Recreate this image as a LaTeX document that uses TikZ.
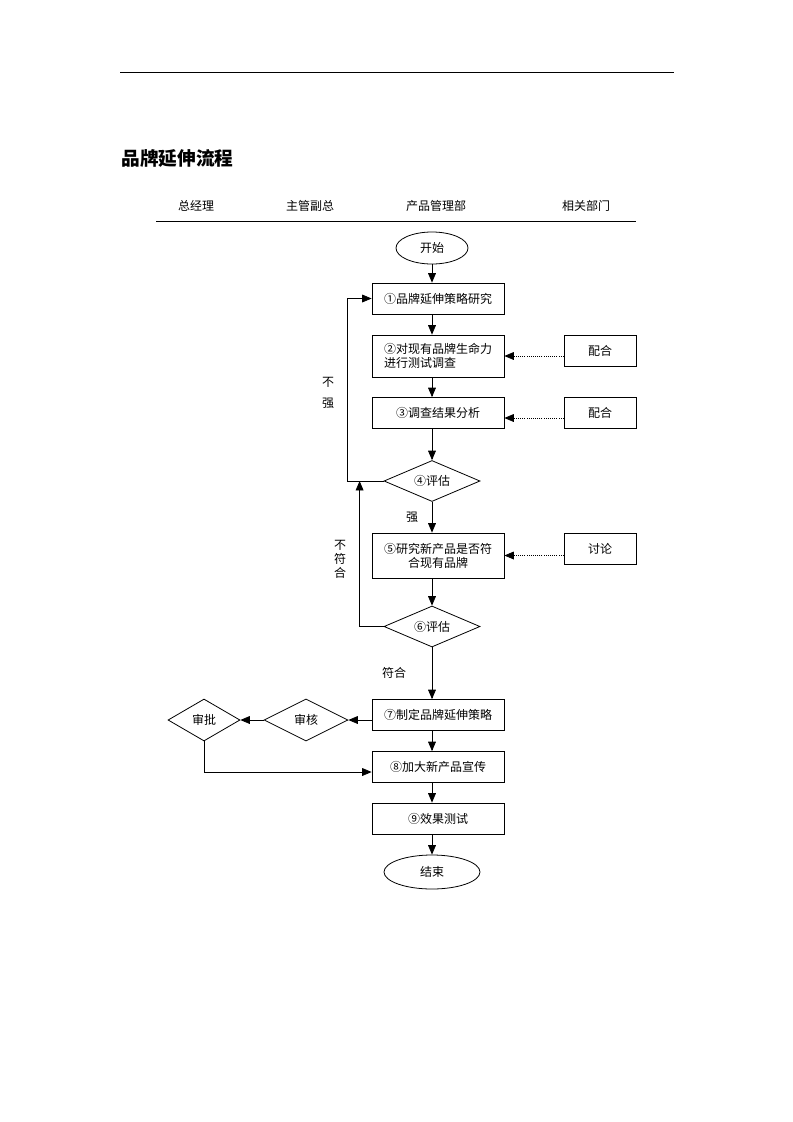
\documentclass[tikz,border=0pt]{standalone}
\usepackage{fontspec}
\setmainfont{Noto Sans CJK SC}
\usetikzlibrary{shapes.geometric, arrows}
\tikzstyle{startstop} = [ellipse, draw=black, minimum width=54pt, minimum height=24pt, inner sep=0pt]
\tikzstyle{process} = [rectangle, draw=black, minimum width=99pt, minimum height=23.25pt, inner sep=2pt, text centered]
\tikzstyle{decision} = [diamond, aspect=2.4, draw=black, minimum width=72pt, minimum height=30.75pt, inner sep=0pt]
\tikzstyle{support} = [rectangle, draw=black, minimum width=54pt, minimum height=23.25pt]
\tikzstyle{remark} = [inner sep=0pt]
\tikzstyle{arrow} = [->,>=triangle 45]
\tikzstyle{hint} = [densely dotted,->,>=triangle 45]

\begin{document}
\begin{tikzpicture}[x=0.75pt, y=-0.75pt, font=\fontsize{9}{10.5}\selectfont, line width=0.6pt]

        \useasboundingbox (0,0) rectangle (793,1122);

        % Page head
        \draw (120,72) -- (674,72);
        \node (title) [remark, anchor=west, font=\fontsize{14}{16}\selectfont\bfseries] at (121,158) {品牌延伸流程};
        \node (gm) [remark] at (196,206) {总经理};
        \node (vp) [remark] at (310,206) {主管副总};
        \node (pm) [remark] at (436,206) {产品管理部};
        \node (rel) [remark] at (586,206) {相关部门};
        \draw (156,221) -- (636,221);

        % Nodes
        \node (start) [startstop] at (432,248) {开始};
        \node (b1) [process] at (438,298.5) {①品牌延伸策略研究};
        \node (b2) [process, minimum height=31.5pt, align=left] at (438,356) {②对现有品牌生命力\\进行测试调查};
        \node (b3) [process] at (438,413) {③调查结果分析};
        \node (d4) [decision] at (432,481) {④评估};
        \node (b5) [process, minimum height=33.75pt, align=center] at (438,555.5) {⑤研究新产品是否符\\合现有品牌};
        \node (d6) [decision] at (432,626.5) {⑥评估};
        \node (b7) [process] at (438,715) {⑦制定品牌延伸策略};
        \node (b8) [process] at (438,767) {⑧加大新产品宣传};
        \node (b9) [process] at (438,818.5) {⑨效果测试};
        \node (stop) [startstop, minimum width=72pt, minimum height=25.5pt] at (432,872) {结束};

        \node (s2) [support] at (600,351) {配合};
        \node (s3) [support] at (600,413) {配合};
        \node (s5) [support] at (600,548.5) {讨论};

        \node (audit) [decision, minimum width=63pt, minimum height=31.5pt] at (306,720) {审核};
        \node (approve) [decision, minimum width=54pt, minimum height=31.5pt] at (204,720) {审批};

        % Labels
        \node (weak1) [remark] at (328,382) {不};
        \node (weak2) [remark] at (328,403) {强};
        \node (strong) [remark] at (412,517) {强};
        \node (misfit) [remark, align=center] at (340,559) {不\\符\\合};
        \node (fit) [remark] at (394,673) {符合};

        % Arrows
        \draw [arrow] (start.south) -- (start.south |- b1.north);
        \draw [arrow] (b1.south -| start) -- (b2.north -| start);
        \draw [arrow] (b2.south -| start) -- (b3.north -| start);
        \draw [arrow] (b3.south -| d4) -- (d4.north);
        \draw [arrow] (d4.south) -- (b5.north -| d4);
        \draw [arrow] (b5.south -| d6) -- (d6.north);
        \draw [arrow] (d6.south) -- (b7.north -| d6);
        \draw [arrow] (b7.south -| d6) -- (b8.north -| d6);
        \draw [arrow] (b8.south -| d6) -- (b9.north -| d6);
        \draw [arrow] (b9.south -| stop) -- (stop.north);

        \draw [arrow] (d4.west) -- ++(-36,0) |- (b1.west);
        \draw [arrow] (d6.west) -- ++(-24,0) coordinate (back) -- (back |- d4.west);

        \draw [hint] (s2.west |- b2) -- (b2.east);
        \draw [hint] ([yshift=-3.75pt]s3.west) -- ([yshift=-3.75pt]b3.east);
        \draw [hint] (s5.west |- b5) -- (b5.east);

        \draw [arrow] (b7.west |- audit) -- (audit.east);
        \draw [arrow] (audit.west) -- (approve.east);
        \draw [arrow] (approve.south) |- ([yshift=-3.75pt]b8.west);

    \end{tikzpicture}
\end{document}
